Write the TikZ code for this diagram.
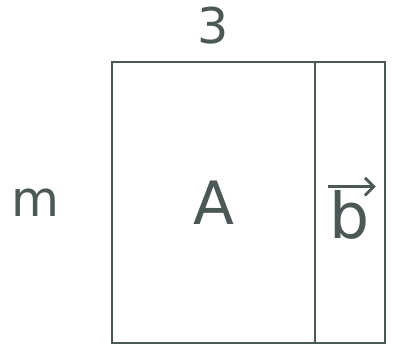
\documentclass[tikz,border=0pt]{standalone}
\usepackage{fontspec}
\setsansfont{DejaVu Sans}
\usetikzlibrary{positioning, arrows.meta}
\definecolor{penGrey}{RGB}{74,88,86}

\tikzset{
  matbox/.style={draw=penGrey, line width=1.6pt, inner sep=0pt, minimum height=5.62cm, text=penGrey},
  dimlabel/.style={text=penGrey, font=\sffamily\fontsize{28}{32}\selectfont}
}

\begin{document}
\begin{tikzpicture}[x=0.02cm, y=-0.02cm]
        \useasboundingbox (0,0) rectangle (393,362);
        \node[matbox, minimum width=4.06cm, font=\sffamily\fontsize{34}{40}\selectfont] (Amat) at (213.5,202.5) {A};
        \node[matbox, minimum width=1.4cm, right=-1.6pt of Amat] (bvec) {};
        \node[text=penGrey, font=\sffamily\fontsize{36}{42}\selectfont, inner sep=1pt] (bsym) at ([yshift=-0.25cm]bvec.center) {b};
        \draw[penGrey, line width=1.6pt, -{Straight Barb[length=5pt]}] ([yshift=1pt]bsym.north west) -- ([xshift=2pt, yshift=1pt]bsym.north east);
        \node[dimlabel, above=0.2cm of Amat] (ncols) {3};
        \node[dimlabel, left=0.9cm of Amat] (nrows) {m};
    \end{tikzpicture}
\end{document}
